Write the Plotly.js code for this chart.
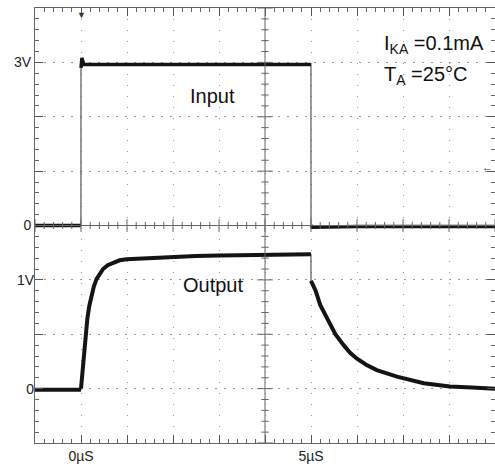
<!DOCTYPE html>
<html>
<head>
<meta charset="utf-8">
<script src="https://cdn.plot.ly/plotly-3.0.1.min.js"></script>
<style>html,body{margin:0;padding:0;background:#fff;}#chart{width:495px;height:464px;}</style>
</head>
<body>
<div id="chart"></div>
<script>
// ---- data ----
// time in microseconds
const inputTime = [-1, -0.5, -0.001, 0, 0.02, 0.06, 1, 2, 3, 4, 4.999, 5.0, 5.03, 6, 7, 8, 9];
// input voltage (V), 1 V per division
const inputVolt = [0.0, 0.0, 0.0, 2.9, 3.08, 2.96, 2.96, 2.97, 2.96, 2.96, 2.96, 0.0, -0.03, -0.02, -0.02, -0.02, -0.02];

const outputTime = [-1, -0.5, -0.001, 0, 0.05, 0.1, 0.137, 0.18, 0.23, 0.28, 0.34, 0.41, 0.48, 0.58, 0.70, 0.84, 0.99, 1.4, 1.85, 2.5, 3.0, 3.65, 4.3, 4.999, 5.0, 5.05, 5.1, 5.2, 5.35, 5.53, 5.71, 5.85, 6.0, 6.2, 6.43, 6.87, 7.45, 8.02, 8.5, 9];
// output voltage (V), 0.5 V per division
const outputVolt = [-0.01, -0.01, -0.01, 0.0, 0.275, 0.5, 0.64, 0.76, 0.86, 0.94, 1.01, 1.06, 1.10, 1.135, 1.16, 1.18, 1.19, 1.20, 1.21, 1.22, 1.225, 1.23, 1.235, 1.235, 0.99, 0.94, 0.90, 0.77, 0.64, 0.50, 0.40, 0.33, 0.275, 0.22, 0.17, 0.11, 0.05, 0.02, 0.01, 0.0];

const xTickVals = [-1, 0, 1, 2, 3, 4, 5, 6, 7, 8, 9];
const xTickText = [' ', '0\u00B5S', ' ', ' ', ' ', ' ', '5\u00B5S', ' ', ' ', ' ', ' '];
const yInTickVals = [-4, -3, -2, -1, 0, 1, 2, 3, 4];
const yInTickText = [' ', ' ', ' ', ' ', '0', ' ', ' ', '3V', ' '];
const yOutTickVals = [0, 1];
const yOutTickText = ['0', '1V'];

const labelInput = 'Input';
const labelOutput = 'Output';
const condCurrent = 'I<sub>KA</sub> =0.1mA';
const condTemp = 'T<sub>A</sub> =25\u00B0C';

// ---- helpers ----
// break the thick trace at vertical (instant) edges so those show as thin lines
function splitEdges(t, v) {
  const xs = [], ys = [];
  for (let i = 0; i < t.length; i++) {
    if (i > 0 && (t[i] - t[i - 1]) < 0.005) { xs.push(null); ys.push(null); }
    xs.push(t[i]); ys.push(v[i]);
  }
  return {xs, ys};
}
const inSplit = splitEdges(inputTime, inputVolt);
const outSplit = splitEdges(outputTime, outputVolt);

const traceColor = '#141414';
const traces = [
  {x: inputTime, y: inputVolt, type: 'scatter', mode: 'lines', line: {color: '#555', width: 1.2}, yaxis: 'y', hoverinfo: 'skip'},
  {x: inSplit.xs, y: inSplit.ys, type: 'scatter', mode: 'lines', connectgaps: false, line: {color: traceColor, width: 3.5}, yaxis: 'y'},
  {x: outputTime, y: outputVolt, type: 'scatter', mode: 'lines', line: {color: '#555', width: 1.2}, yaxis: 'y2', hoverinfo: 'skip'},
  {x: outSplit.xs, y: outSplit.ys, type: 'scatter', mode: 'lines', connectgaps: false, line: {color: traceColor, width: 4}, yaxis: 'y2'}
];

// centre crosshair with small division marks (oscilloscope graticule)
const xMin = -1, xMax = 9, yMin = -4, yMax = 4, xCenter = 4, yCenter = 0;
const gridCol = '#9a9a9a';
const shapes = [
  {type: 'line', xref: 'x', yref: 'paper', x0: xCenter, x1: xCenter, y0: 0, y1: 1, line: {color: '#666', width: 1}},
  {type: 'line', xref: 'paper', yref: 'y', x0: 0, x1: 1, y0: yCenter, y1: yCenter, line: {color: '#666', width: 1}}
];
for (let k = 0; k <= 50; k++) {
  const xv = xMin + k * 0.2;
  const big = (k % 5 === 0) ? 0.12 : 0.065;
  shapes.push({type: 'line', xref: 'x', yref: 'y', x0: xv, x1: xv, y0: yCenter - big, y1: yCenter + big, line: {color: '#666', width: 1}});
}
for (let k = 0; k <= 40; k++) {
  const yv = yMin + k * 0.2;
  const big = (k % 5 === 0) ? 0.17 : 0.08;
  shapes.push({type: 'line', xref: 'x', yref: 'y', x0: xCenter - big, x1: xCenter + big, y0: yv, y1: yv, line: {color: '#666', width: 1}});
}

const fontFam = 'Liberation Sans, Arial, sans-serif';
const layout = {
  width: 495, height: 464,
  margin: {l: 35, r: 0, t: 8, b: 21, pad: 0},
  paper_bgcolor: '#fff', plot_bgcolor: '#fff',
  showlegend: false,
  font: {family: fontFam, color: '#222', size: 14},
  xaxis: {
    range: [xMin, xMax], tickmode: 'array', tickvals: xTickVals, ticktext: xTickText,
    ticks: 'inside', ticklen: 8, tickcolor: '#555', tickwidth: 1,
    minor: {dtick: 0.2, tick0: 0, ticks: 'inside', ticklen: 4, tickcolor: '#666', showgrid: false},
    showline: true, linecolor: '#666', linewidth: 1, mirror: 'ticks',
    showgrid: true, gridcolor: gridCol, gridwidth: 1, griddash: '1px,10px',
    zeroline: false, fixedrange: true, tickfont: {size: 14, color: '#222'}
  },
  yaxis: {
    range: [yMin, yMax], tickmode: 'array', tickvals: yInTickVals, ticktext: yInTickText,
    ticks: 'inside', ticklen: 8, tickcolor: '#555', tickwidth: 1,
    minor: {dtick: 0.2, tick0: 0, ticks: 'inside', ticklen: 4, tickcolor: '#666', showgrid: false},
    showline: true, linecolor: '#666', linewidth: 1, mirror: 'ticks',
    showgrid: true, gridcolor: gridCol, gridwidth: 1, griddash: '2px,7px',
    zeroline: false, fixedrange: true, tickfont: {size: 14, color: '#222'}
  },
  yaxis2: {
    range: [-0.5, 3.5], overlaying: 'y', side: 'left', anchor: 'x',
    tickmode: 'array', tickvals: yOutTickVals, ticktext: yOutTickText,
    ticks: '', showline: false, showgrid: false, zeroline: false, fixedrange: true,
    tickfont: {size: 14, color: '#222'}
  },
  shapes: shapes,
  annotations: [
    {text: labelInput, x: 2.85, y: 2.39, xref: 'x', yref: 'y', showarrow: false, font: {size: 20, color: '#111', family: fontFam}},
    {text: labelOutput, x: 2.87, y: -1.10, xref: 'x', yref: 'y', showarrow: false, font: {size: 20, color: '#111', family: fontFam}},
    {text: condCurrent, x: 6.54, y: 3.33, xref: 'x', yref: 'y', xanchor: 'left', yanchor: 'middle', showarrow: false, font: {size: 20, color: '#111', family: fontFam}},
    {text: condTemp, x: 6.54, y: 2.75, xref: 'x', yref: 'y', xanchor: 'left', yanchor: 'middle', showarrow: false, font: {size: 20, color: '#111', family: fontFam}},
    {text: '\u25BC', x: 0, y: 1, xref: 'x', yref: 'paper', yanchor: 'top', showarrow: false, font: {size: 9, color: '#333'}},
    {text: '\u2190', x: 1, y: 1.08, xref: 'paper', yref: 'y', xanchor: 'right', showarrow: false, font: {size: 11, color: '#333'}}
  ]
};

Plotly.newPlot('chart', traces, layout, {displayModeBar: false, staticPlot: true});
</script>
</body>
</html>
